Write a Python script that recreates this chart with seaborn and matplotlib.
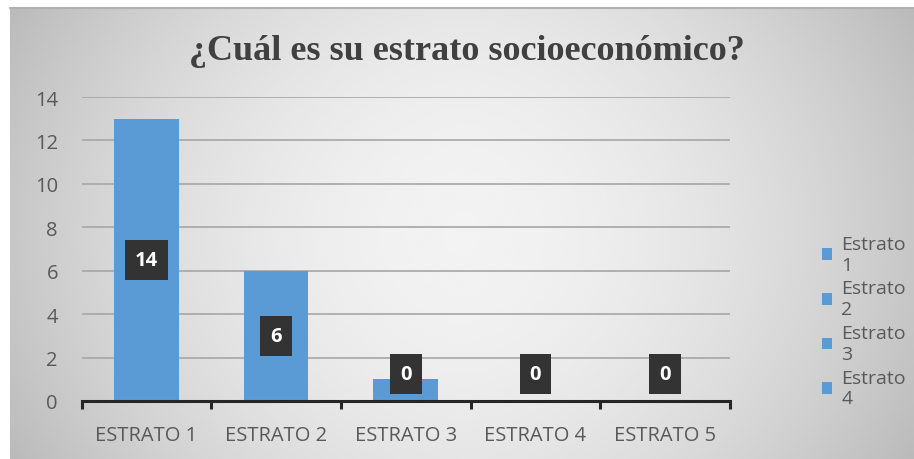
import numpy as np
import pandas as pd
import matplotlib
matplotlib.use('Agg')
import matplotlib.pyplot as plt
from matplotlib.patches import Patch
import seaborn as sns

# datos del gráfico
categorias = ['ESTRATO 1', 'ESTRATO 2', 'ESTRATO 3', 'ESTRATO 4', 'ESTRATO 5']
alturas = [13, 6, 1, 0, 0]
etiquetas = ['14', '6', '0', '0', '0']
leyenda = ['Estrato\n1', 'Estrato\n2', 'Estrato\n3', 'Estrato\n4']

df = pd.DataFrame({'estrato': categorias, 'valor': alturas})

sns.set_theme(style='white')
plt.rcParams['font.family'] = ['Open Sans', 'DejaVu Sans']

azul = '#5b9bd5'
gris_txt = '#595959'

fig = plt.figure(figsize=(9.14, 4.6), dpi=100)
fig.patch.set_facecolor('white')

# fondo degradado del marco
bg = fig.add_axes([10 / 914, 0, 1 - 10 / 914, 1 - 9 / 460])
xx = np.linspace(-1, 1, 400)
yy = np.linspace(-1, 1, 200)
X, Y = np.meshgrid(xx, yy)
grad = 0.95 - 0.17 * np.abs(X) ** 1.8 - 0.05 * np.abs(Y) ** 2
bg.imshow(grad, cmap='gray', vmin=0, vmax=1, aspect='auto',
          extent=[0, 1, 0, 1], interpolation='bicubic')
bg.set_axis_off()
bg.plot([0, 1], [1, 1], color='#b0b0b0', lw=1.5, transform=bg.transAxes, clip_on=False)

ax = fig.add_axes([81.5 / 914, 1 - 402 / 460, (730 - 81.5) / 914, (402 - 98) / 460])
ax.patch.set_alpha(0)
sns.barplot(data=df, x='estrato', y='valor', color=azul, width=0.5,
            saturation=1, linewidth=0, ax=ax, zorder=3)

ax.set_xlim(-0.5, 4.5)
ax.set_ylim(0, 14)
ax.set_yticks(range(0, 15, 2))
ax.yaxis.grid(True, color='#a6a6a6', lw=1.2, zorder=0)
ax.set_xlabel('')
ax.set_ylabel('')
for s in ['top', 'right', 'left']:
    ax.spines[s].set_visible(False)
ax.spines['bottom'].set_color('#262626')
ax.spines['bottom'].set_linewidth(2.2)
ax.spines['bottom'].set_zorder(4)

# marcas entre categorías
ax.set_xticks(np.arange(-0.5, 5, 1), minor=True)
ax.tick_params(axis='x', which='minor', length=6, width=2.2, color='#262626',
               direction='out', bottom=True)
ax.tick_params(axis='x', which='major', length=0, labelsize=14.5,
               labelcolor=gris_txt, pad=17)
ax.tick_params(axis='y', length=0, labelsize=14.5, labelcolor=gris_txt, pad=17)

# etiquetas de datos
for i, (h, t) in enumerate(zip(alturas, etiquetas)):
    ax.text(i, max(h / 2, 1.25), t, ha='center', va='center', color='white',
            fontsize=14.5, fontweight='bold', zorder=6,
            bbox=dict(boxstyle='square,pad=0.5', fc='#333333', ec='none'))

fig.text(0.511, 0.888, '¿Cuál es su estrato socioeconómico?', ha='center', va='center',
         fontsize=26, fontweight='bold', color='#404040', family='Liberation Serif')

handles = [Patch(facecolor=azul, edgecolor='none') for _ in leyenda]
fig.legend(handles, leyenda, loc='upper left', bbox_to_anchor=(812 / 914, 1 - 226 / 460),
           frameon=False, fontsize=14, labelcolor=gris_txt, handlelength=0.55,
           handleheight=0.55, handletextpad=0.45, labelspacing=0.3, borderpad=0)

fig.savefig('out.png', dpi=100)
